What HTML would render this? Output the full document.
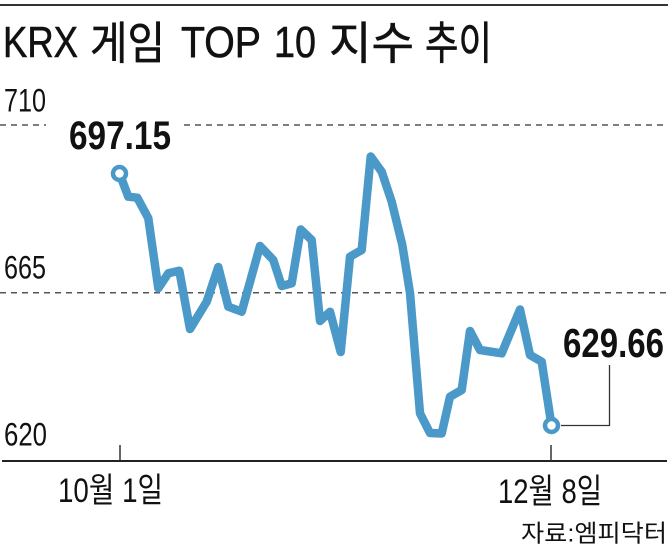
<!DOCTYPE html>
<html>
<head>
<meta charset="utf-8">
<style>
  html, body { margin: 0; padding: 0; background: #ffffff; }
  svg { display: block; }
  text { font-family: "Liberation Sans", "Noto Sans CJK KR", sans-serif; fill: #111; }
</style>
</head>
<body>
<svg width="670" height="551" viewBox="0 0 670 551" xmlns="http://www.w3.org/2000/svg">
  <rect width="670" height="551" fill="#ffffff"/>
  <!-- top rule -->
  <line x1="0" y1="5" x2="668" y2="5" stroke="#333" stroke-width="2"/>

  <!-- title -->
  <text x="3" y="57" font-size="44" textLength="75" lengthAdjust="spacingAndGlyphs" stroke="#111" stroke-width="0.6">KRX</text>
  <text x="90" y="59" font-size="45" textLength="75" lengthAdjust="spacingAndGlyphs" stroke="#111" stroke-width="0.6">게임</text>
  <text x="181" y="57" font-size="44" textLength="80" lengthAdjust="spacingAndGlyphs" stroke="#111" stroke-width="0.6">TOP</text>
  <text x="274" y="57" font-size="44" textLength="42" lengthAdjust="spacingAndGlyphs" stroke="#111" stroke-width="0.6">10</text>
  <text x="329" y="59" font-size="45" textLength="85" lengthAdjust="spacingAndGlyphs" stroke="#111" stroke-width="0.6">지수</text>
  <text x="425" y="59" font-size="45" textLength="67" lengthAdjust="spacingAndGlyphs" stroke="#111" stroke-width="0.6">추이</text>

  <!-- y labels -->
  <text x="4" y="111.5" font-size="32" textLength="42" lengthAdjust="spacingAndGlyphs" fill="#222">710</text>
  <text x="4" y="278.5" font-size="32" textLength="42" lengthAdjust="spacingAndGlyphs" fill="#222">665</text>
  <text x="4" y="445.5" font-size="32" textLength="43" lengthAdjust="spacingAndGlyphs" fill="#222">620</text>

  <!-- gridlines -->
  <line x1="0" y1="125" x2="46" y2="125" stroke="#555" stroke-width="1.5" stroke-dasharray="6 5"/>
  <line x1="184" y1="125" x2="668" y2="125" stroke="#555" stroke-width="1.5" stroke-dasharray="6 5"/>
  <line x1="0" y1="292.7" x2="668" y2="292.7" stroke="#555" stroke-width="1.5" stroke-dasharray="6 5"/>

  <!-- axis -->
  <line x1="2" y1="461" x2="667" y2="461" stroke="#222" stroke-width="2"/>
  <line x1="120" y1="445" x2="120" y2="461" stroke="#333" stroke-width="1.5"/>
  <line x1="551" y1="445" x2="551" y2="461" stroke="#333" stroke-width="1.5"/>

  <!-- x labels -->
  <text x="58" y="502" font-size="34" textLength="105" lengthAdjust="spacingAndGlyphs" fill="#222">10월 1일</text>
  <text x="498" y="503" font-size="34" textLength="104" lengthAdjust="spacingAndGlyphs" fill="#222">12월 8일</text>
  <text x="521" y="541.5" font-size="24" textLength="146" lengthAdjust="spacingAndGlyphs" fill="#222">자료:엠피닥터</text>

  <!-- series -->
  <polyline fill="none" stroke="#4b99c8" stroke-width="8.5" stroke-linejoin="round" stroke-linecap="round"
    points="119.5,173.5 128.3,196.7 137.3,197.7 148.3,218.3 158.3,288.3 168.3,273.3 179.3,270.7 190,329 206.7,301.7 218.3,267 228.3,306.7 241.7,311.7 260,246 273.3,260 281.7,286 291.7,283.3 300.7,229.5 311.7,240 320,321 330,311.7 340.7,352 350,256.7 361.7,250 370.7,156.5 381.7,171.7 391.7,201.7 402.3,245 410,293 420,413.3 430,433 441.7,433.5 450,396.7 461.7,390 470,331 480,350 501.7,353.3 520,309.5 530,355 541.7,361.7 551.5,425.5"/>

  <!-- end markers -->
  <circle cx="119.5" cy="173.5" r="6.5" fill="#ffffff" stroke="#4b99c8" stroke-width="4.5"/>
  <circle cx="551.5" cy="425.5" r="6.5" fill="#ffffff" stroke="#4b99c8" stroke-width="4.5"/>

  <!-- callout -->
  <polyline fill="none" stroke="#333" stroke-width="1.3" points="561,425.5 609.5,425.5 609.5,365"/>

  <!-- value labels -->
  <text x="69" y="149" font-size="40" font-weight="700" textLength="102" lengthAdjust="spacingAndGlyphs">697.15</text>
  <text x="563" y="357" font-size="41" font-weight="700" textLength="101" lengthAdjust="spacingAndGlyphs">629.66</text>
</svg>
</body>
</html>
